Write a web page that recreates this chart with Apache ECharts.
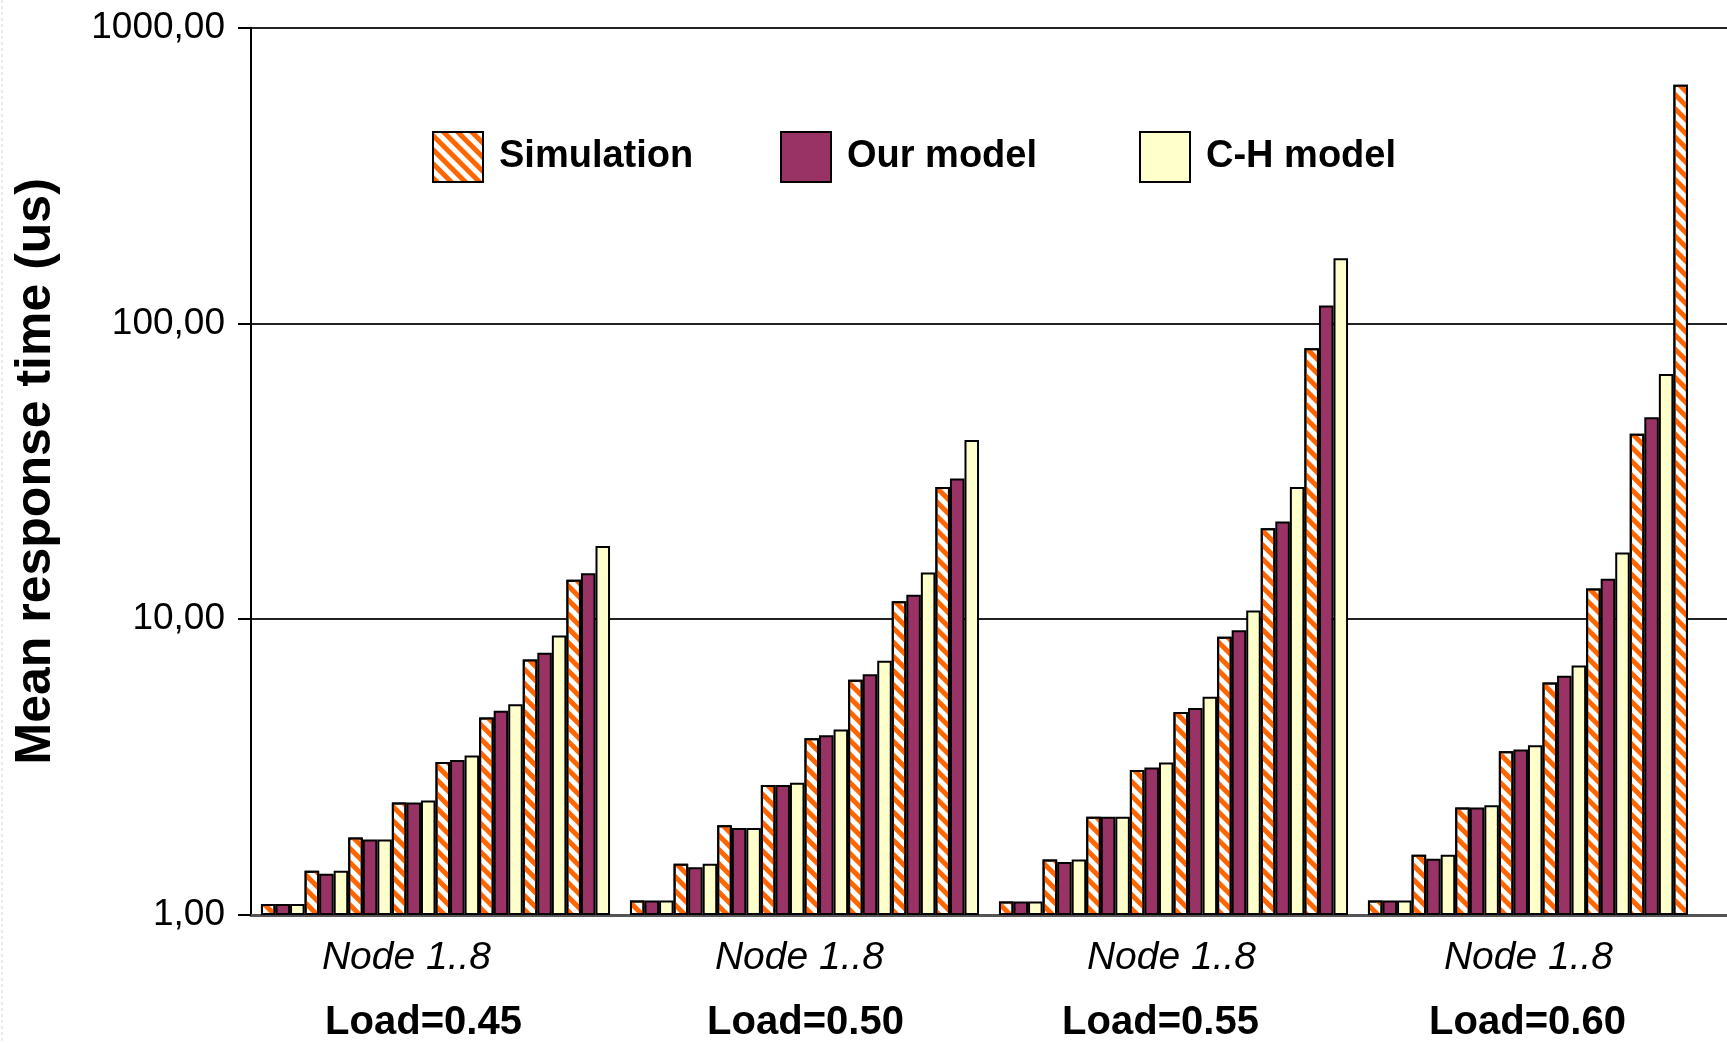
<!DOCTYPE html>
<html>
<head>
<meta charset="utf-8">
<script src="https://cdn.jsdelivr.net/npm/echarts@6/dist/echarts.min.js"></script>
<style>
  html, body { margin: 0; padding: 0; background: #ffffff; }
  #chart { width: 1727px; height: 1043px; }
</style>
</head>
<body>
<div id="chart"></div>
<script>
// ---- data ----
const loads = ['0.45', '0.50', '0.55', '0.60'];
const nodeLabel = 'Node 1..8';
const seriesNames = ['Simulation', 'Our model', 'C-H model'];
// each inner array: nodes 1..8 for one load value
const simulation = [
  [1.09, 1.41, 1.83, 2.40, 3.29, 4.65, 7.31, 13.6],
  [1.12, 1.49, 2.01, 2.75, 3.96, 6.24, 11.5, 28.0],
  [1.11, 1.54, 2.15, 3.09, 4.86, 8.72, 20.3, 82.5],
  [1.12, 1.60, 2.31, 3.58, 6.11, 12.7, 42.4, 641]
];
const ourModel = [
  [1.09, 1.38, 1.80, 2.40, 3.34, 4.90, 7.70, 14.3],
  [1.12, 1.45, 1.97, 2.75, 4.05, 6.52, 12.1, 29.9],
  [1.11, 1.51, 2.15, 3.15, 5.01, 9.18, 21.4, 115],
  [1.12, 1.55, 2.31, 3.63, 6.44, 13.7, 48.2, null]
];
const chModel = [
  [1.09, 1.41, 1.80, 2.44, 3.46, 5.16, 8.81, 17.7],
  [1.12, 1.49, 1.97, 2.80, 4.24, 7.24, 14.4, 40.4],
  [1.11, 1.54, 2.15, 3.28, 5.47, 10.7, 28.0, 166],
  [1.12, 1.60, 2.35, 3.75, 6.98, 16.8, 67.5, null]
];
const yTicks = [1, 10, 100, 1000];

// ---- styles ----
const FONT = '"Liberation Sans", Arial, sans-serif';
const styles = [
  { color: '#ffffff', borderColor: '#000', borderWidth: 2,
    decal: { symbol: 'rect', symbolSize: 1, color: '#FF6600', dashArrayX: [1, 0], dashArrayY: [4.5, 5], rotation: Math.PI / 4 } },
  { color: '#993366', borderColor: '#000', borderWidth: 2 },
  { color: '#FFFFCC', borderColor: '#000', borderWidth: 2 }
];
// horizontal nudges of the hand-placed category captions (styling only)
const nodeShift = [-29, -5, -2, -14];
const loadShift = [-12, 1, -13, -15];

const dataSets = [simulation, ourModel, chModel];
const nodeCount = simulation[0].length;

const series = [];
for (let n = 0; n < nodeCount; n++) {
  for (let m = 0; m < 3; m++) {
    series.push({
      name: seriesNames[m],
      type: 'bar',
      barGap: '0%',
      barCategoryGap: '5.4%',
      itemStyle: styles[m],
      emphasis: { disabled: true },
      data: loads.map((_, g) => dataSets[m][g][n])
    });
  }
}

const legendPos = [427, 775, 1134];
const legends = seriesNames.map((nm, i) => ({
  data: [{ name: nm, icon: 'rect' }],
  left: legendPos[i],
  top: 126,
  orient: 'horizontal',
  itemWidth: 50,
  itemHeight: 50,
  selectedMode: false,
  textStyle: { fontFamily: FONT, fontSize: 38, fontWeight: 'bold', color: '#000', padding: [0, 0, 0, 11] }
}));

function padFor(shift) {
  return shift < 0 ? [0, -2 * shift, 0, 0] : [0, 0, 0, 2 * shift];
}
const rich = {};
loads.forEach((_, i) => {
  rich['n' + i] = { fontFamily: FONT, fontSize: 39, fontStyle: 'italic', color: '#000', lineHeight: 46, padding: padFor(nodeShift[i]) };
  rich['l' + i] = { fontFamily: FONT, fontSize: 40, fontWeight: 'bold', color: '#000', lineHeight: 84, padding: padFor(loadShift[i]) };
});

const chart = echarts.init(document.getElementById('chart'), null, { renderer: 'canvas' });
chart.setOption({
  backgroundColor: '#ffffff',
  animation: false,
  legend: legends,
  grid: { left: 251, right: -5, top: 27.7, bottom: 125.5, containLabel: false },
  xAxis: {
    type: 'category',
    data: loads,
    axisLine: { show: true, lineStyle: { color: '#555', width: 3 } },
    axisTick: { show: false },
    splitLine: { show: false },
    axisLabel: {
      interval: 0,
      margin: 20,
      formatter: (v, i) => '{n' + i + '|' + nodeLabel + '}\n{l' + i + '|Load=' + v + '}',
      rich: rich
    }
  },
  yAxis: {
    type: 'log',
    logBase: 10,
    min: yTicks[0],
    max: yTicks[yTicks.length - 1],
    name: 'Mean response time (us)',
    nameLocation: 'middle',
    nameRotate: 90,
    nameGap: 190,
    nameTextStyle: { fontFamily: FONT, fontSize: 50, fontWeight: 'bold', color: '#000' },
    axisLine: { show: true, lineStyle: { color: '#000', width: 2 } },
    axisTick: { show: true, inside: false, length: 13, lineStyle: { color: '#000', width: 2 } },
    splitLine: { show: true, lineStyle: { color: '#222', width: 2 } },
    axisLabel: {
      margin: 26,
      fontFamily: FONT,
      fontSize: 37,
      color: '#000',
      formatter: v => Number(v).toFixed(2).replace('.', ',')
    }
  },
  graphic: [{
    type: 'line', shape: { x1: 2, y1: 0, x2: 2, y2: 1043 },
    style: { stroke: '#d8d8d8', lineWidth: 1, lineDash: [3, 3] }, silent: true
  }],
  series: series
});
</script>
</body>
</html>
